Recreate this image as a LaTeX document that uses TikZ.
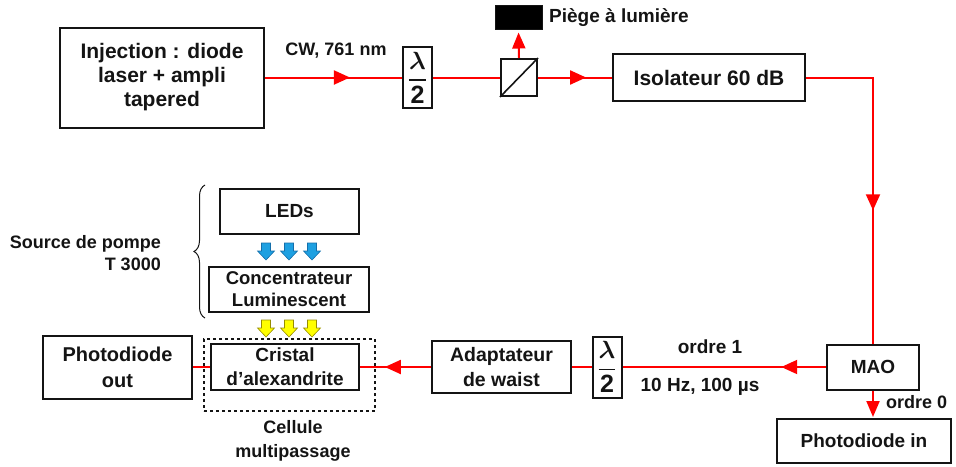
\documentclass[tikz,border=0pt]{standalone}
\usepackage{fontspec}
\setmainfont{Liberation Sans}
\usepackage{amsmath,bm}
\usetikzlibrary{arrows.meta,decorations.markings,decorations.pathreplacing}
\definecolor{ink}{RGB}{20,20,20}
\definecolor{ledblue}{RGB}{30,160,225}
\definecolor{ledblueb}{RGB}{20,110,170}
\definecolor{ledyel}{RGB}{255,255,0}
\definecolor{ledyelb}{RGB}{150,140,0}
\tikzset{
  box/.style={draw=ink, line width=2pt, inner sep=0pt, align=center, text=ink,
    font=\bfseries\fontsize{19}{24}\selectfont},
  bigtext/.style={font=\bfseries\fontsize{21}{24}\selectfont},
  lbl/.style={inner sep=0pt, align=center, text=ink, font=\bfseries\fontsize{18}{24}\selectfont},
  beam/.style={red, line width=2pt},
  midarrow/.style={postaction={decorate}, decoration={markings,
    mark=at position #1 with {\arrow{Triangle[length=16pt,width=14pt]}}}},
  endarrow/.style={-{Triangle[length=16pt,width=13pt]}},
  halfwave/.style={box, minimum width=29pt, minimum height=61pt,
    font=\fontsize{25}{26}\selectfont},
  blockarr/.pic={\path[pic actions] (-4.5,0) -- (4.5,0) -- (4.5,8) -- (8.5,8) -- (0,17) -- (-8.5,8) -- (-4.5,8) -- cycle;}
}
\newcommand{\halfw}{$\displaystyle\genfrac{}{}{1.6pt}{0}{\bm{\lambda}}{\mathbf{2}}$}
\begin{document}
\begin{tikzpicture}[x=1pt,y=-1pt]
\useasboundingbox (0,0) rectangle (956,466);
% upper row
\node[box, bigtext, minimum width=204pt, minimum height=100pt] (inj) at (162,77.5) {Injection : diode\\laser + ampli\\tapered};
\node[halfwave] (hw1) at (417.5,77.5) {\halfw};
\node[box, minimum width=36pt, minimum height=37pt] (cube) at (519,77.5) {};
\draw[ink, line width=1.6pt] (cube.south west) -- (cube.north east);
\node[draw=ink, fill=black, line width=1pt, minimum width=47pt, minimum height=24pt, inner sep=0pt] (trap) at (518.5,17) {};
\node[lbl, anchor=west, font=\bfseries\fontsize{19}{24}\selectfont] (traplbl) at (549,18) {Piège à lumière};
\node[box, bigtext, minimum width=192pt, minimum height=47pt] (iso) at (709,77.5) {Isolateur 60 dB};
\node[lbl] (cw) at (336,51) {CW, 761 nm};
% pump source
\node[box, minimum width=139pt, minimum height=45pt] (leds) at (289.5,211.5) {LEDs};
\node[box, minimum width=160pt, minimum height=45pt, font=\bfseries\fontsize{18.5}{22}\selectfont] (conc) at (289,289.5) {Concentrateur\\Luminescent};
\foreach \x in {266,289,312}{
  \pic[fill=ledblue, draw=ledblueb, line width=0.6pt] at (\x,243) {blockarr};
  \pic[fill=ledyel, draw=ledyelb, line width=0.6pt] at (\x,320) {blockarr};
}
\draw[decorate, decoration={brace, amplitude=11pt}, line width=1pt, ink] (205,318) -- (205,185);
\node[lbl, anchor=east, align=right, font=\bfseries\fontsize{18}{22}\selectfont] (src) at (161,253) {Source de pompe\\T 3000};
% lower row
\node[draw=ink, dashed, line width=1.6pt, minimum width=171pt, minimum height=72pt, inner sep=0pt] (cell) at (289.5,375) {};
\node[box, minimum width=148pt, minimum height=46pt] (crist) at (285,367) {Cristal\\d’alexandrite};
\node[lbl] (celllbl) at (293,441) {Cellule\\multipassage};
\node[box, minimum width=149pt, minimum height=63pt, font=\bfseries\fontsize{20}{26}\selectfont] (pdout) at (117.5,367) {Photodiode\\out};
\node[box, minimum width=139pt, minimum height=52pt, font=\bfseries\fontsize{19.5}{25}\selectfont] (adapt) at (501.5,367) {Adaptateur\\de waist};
\node[halfwave] (hw2) at (607,367) {\halfw};
\node[box, minimum width=92pt, minimum height=45pt] (mao) at (873,367) {MAO};
\node[box, minimum width=174pt, minimum height=44pt] (pdin) at (864,441) {Photodiode in};
\node[lbl, font=\bfseries\fontsize{19}{24}\selectfont] (o1) at (710,347) {ordre 1};
\node[lbl, font=\bfseries\fontsize{19}{24}\selectfont] (freq) at (700,387) {10 Hz, 100 µs};
\node[lbl, anchor=west] (o0) at (886,402) {ordre 0};
% beams
\draw[beam, midarrow=0.62] (inj.east) -- (hw1.west);
\draw[beam] (hw1.east) -- (cube.west);
\draw[beam, midarrow=0.65] (cube.east) -- (iso.west);
\draw[beam, endarrow, shorten >=3pt] (cube.north) -- (trap.south);
\draw[beam, midarrow=0.6] (iso.east) -| (mao.north);
\draw[beam, midarrow=0.22] (mao.west) -- (hw2.east);
\draw[beam] (hw2.west) -- (adapt.east);
\draw[beam, midarrow=0.65] (adapt.west) -- (crist.east);
\draw[beam] (crist.west) -- (pdout.east);
\draw[beam, endarrow, shorten >=1pt] (mao.south) -- (mao.south |- pdin.north);
\end{tikzpicture}
\end{document}
